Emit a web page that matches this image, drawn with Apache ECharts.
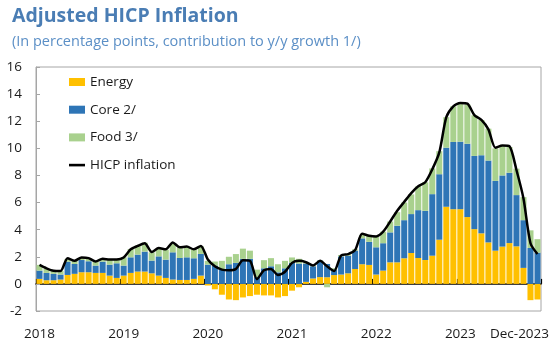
<!DOCTYPE html>
<html>
<head>
<meta charset="utf-8">
<script src="https://cdn.jsdelivr.net/npm/echarts@6/dist/echarts.min.js"></script>
<style>
  html, body { margin: 0; padding: 0; background: #fff; }
  #chart { width: 560px; height: 341px; }
</style>
</head>
<body>
<div id="chart"></div>
<script>
// Monthly contributions, Jan-2018 .. Dec-2023 (percentage points)
const years = ['2018', '2019', '2020', '2021', '2022', '2023'];
const endLabel = 'Dec-2023';
const monthNames = ['Jan','Feb','Mar','Apr','May','Jun','Jul','Aug','Sep','Oct','Nov','Dec'];

const energy = [
  0.37, 0.27, 0.27, 0.32, 0.66, 0.74, 0.86, 0.86, 0.81, 0.81, 0.61, 0.44,
  0.61, 0.81, 0.91, 0.91, 0.78, 0.61, 0.44, 0.32, 0.29, 0.29, 0.37, 0.61,
  -0.12, -0.40, -0.80, -1.15, -1.20, -1.00, -0.90, -0.80, -0.85, -0.85, -1.00, -0.90,
  -0.50, -0.25, 0.15, 0.40, 0.50, 0.49, 0.65, 0.69, 0.78, 1.10, 1.45, 1.40,
  0.69, 0.98, 1.59, 1.59, 1.89, 2.28, 1.91, 1.76, 2.08, 3.26, 5.69, 5.51,
  5.51, 4.93, 4.04, 3.73, 3.06, 2.45, 2.75, 3.01, 2.77, 1.18, -1.20, -1.15
];
const core = [
  0.61, 0.54, 0.47, 0.37, 0.98, 0.73, 0.90, 0.81, 0.54, 0.83, 0.81, 1.08,
  0.74, 1.15, 1.25, 1.47, 0.94, 1.42, 1.35, 2.01, 1.62, 1.67, 1.52, 1.60,
  1.42, 1.35, 1.05, 1.45, 1.55, 1.85, 1.85, 0.50, 1.15, 1.30, 0.85, 1.15,
  1.55, 1.50, 1.35, 0.90, 1.22, 0.98, 0.40, 1.34, 1.30, 1.35, 1.91, 1.70,
  2.01, 2.02, 2.21, 2.70, 2.81, 2.87, 3.53, 3.63, 4.54, 4.83, 4.36, 4.96,
  4.98, 5.41, 5.40, 5.76, 6.04, 5.15, 5.25, 5.19, 3.78, 3.52, 2.65, 2.30
];
const food = [
  0.42, 0.29, 0.22, 0.27, 0.20, 0.25, 0.18, 0.22, 0.32, 0.25, 0.42, 0.32,
  0.61, 0.61, 0.66, 0.66, 0.61, 0.59, 0.73, 0.66, 0.79, 0.79, 0.68, 0.56,
  0.28, 0.30, 0.65, 0.55, 0.65, 0.75, 0.60, 0.55, 0.60, 0.60, 0.60, 0.55,
  0.40, 0.35, 0.05, 0.05, 0.03, -0.25, 0.10, 0.10, 0.12, 0.10, 0.24, 0.45,
  0.80, 0.85, 0.80, 1.00, 1.30, 1.45, 1.76, 2.10, 1.90, 1.70, 2.25, 2.63,
  2.80, 2.90, 3.00, 2.60, 2.35, 2.40, 2.15, 1.90, 1.95, 1.70, 1.30, 1.00
];
const hicp = [
  1.40, 1.15, 0.97, 0.95, 1.90, 1.70, 1.95, 1.90, 1.65, 1.85, 1.80, 1.80,
  1.95, 2.55, 2.80, 3.00, 2.35, 2.65, 2.55, 3.05, 2.70, 2.75, 2.55, 2.80,
  1.80, 1.30, 1.05, 1.00, 1.10, 1.75, 1.70, 0.35, 1.00, 1.10, 0.65, 0.90,
  1.55, 1.70, 1.60, 1.35, 1.70, 1.30, 0.95, 2.10, 2.20, 2.50, 3.70, 3.55,
  3.50, 3.85, 4.60, 5.40, 6.05, 6.70, 7.20, 7.50, 8.45, 9.70, 12.30, 13.10,
  13.35, 13.30, 12.45, 12.10, 11.40, 10.05, 10.20, 10.15, 8.40, 6.30, 3.00, 2.20
];

// one category per month
const categories = [];
years.forEach(function (y) {
  monthNames.forEach(function (m) { categories.push(m + '-' + y); });
});

const FONT = '"Open Sans", "Noto Sans", sans-serif';
const TEXT = '#1a1a1a';
const chart = echarts.init(document.getElementById('chart'), null, { renderer: 'canvas' });

chart.setOption({
  animation: false,
  backgroundColor: '#ffffff',
  title: [{
    text: 'Adjusted HICP Inflation',
    left: 12, top: 6, padding: 0,
    textStyle: { fontFamily: FONT, fontSize: 19.5, fontWeight: 'bold', color: '#4a7db4' }
  }, {
    text: '(In percentage points, contribution to y/y growth 1/)',
    left: 12, top: 34, padding: 0,
    textStyle: { fontFamily: FONT, fontSize: 14.5, fontWeight: 'normal', color: '#5b8fc6' }
  }],
  legend: {
    orient: 'vertical',
    left: 69, top: 74, padding: 0,
    itemWidth: 16, itemHeight: 8,
    itemGap: 11.7,
    textStyle: { fontFamily: FONT, fontSize: 13.5, color: TEXT, lineHeight: 16 },
    data: [
      { name: 'Energy', icon: 'rect' },
      { name: 'Core 2/', icon: 'rect' },
      { name: 'Food 3/', icon: 'rect' },
      { name: 'HICP inflation', icon: 'path://M0,0H16V2.6H0Z', itemStyle: { color: '#000' } }
    ]
  },
  grid: {
    left: 36, right: 19, top: 67, bottom: 29,
    show: true, borderColor: '#a6a6a6', borderWidth: 1, containLabel: false
  },
  xAxis: [{
    type: 'category',
    data: categories,
    boundaryGap: true,
    axisLine: { onZero: true, lineStyle: { color: '#000', width: 1.5 } },
    axisTick: { show: true, interval: 11, inside: true, length: 5, lineStyle: { color: '#000', width: 1.2 } },
    axisLabel: { show: false },
    splitLine: { show: false }
  }, {
    type: 'category',
    data: categories,
    position: 'bottom',
    axisLine: { show: false, onZero: false },
    axisTick: { show: false },
    splitLine: { show: false },
    axisLabel: {
      show: true,
      margin: 16,
      fontFamily: FONT, fontSize: 13.5, color: TEXT,
      interval: function (i) { return i % 12 === 0 || i === categories.length - 1; },
      formatter: function (v, i) {
        if (i === categories.length - 1) return '{end|' + endLabel + '}';
        return years[Math.floor(i / 12)];
      },
      rich: { end: { fontFamily: FONT, fontSize: 13.5, color: TEXT, padding: [0, 36, 0, 0] } }
    }
  }],
  yAxis: {
    type: 'value',
    min: -2, max: 16, interval: 2,
    axisLine: { show: true, lineStyle: { color: '#a6a6a6' } },
    axisTick: { show: true, inside: true, length: 4, lineStyle: { color: '#a6a6a6' } },
    axisLabel: { fontFamily: FONT, fontSize: 13.5, color: TEXT, margin: 14 },
    splitLine: { show: false }
  },
  series: [{
    name: 'Energy', type: 'bar', stack: 'total', data: energy,
    barCategoryGap: '14%',
    itemStyle: { color: '#ffc000' }
  }, {
    name: 'Core 2/', type: 'bar', stack: 'total', data: core,
    barCategoryGap: '14%',
    itemStyle: { color: '#2e75b6' }
  }, {
    name: 'Food 3/', type: 'bar', stack: 'total', data: food,
    barCategoryGap: '14%',
    itemStyle: { color: '#a9d18e' }
  }, {
    name: 'HICP inflation', type: 'line', data: hicp,
    symbol: 'none', smooth: 0.25, z: 5,
    lineStyle: { color: '#000', width: 2.5 },
    itemStyle: { color: '#000' }
  }]
});
</script>
</body>
</html>
